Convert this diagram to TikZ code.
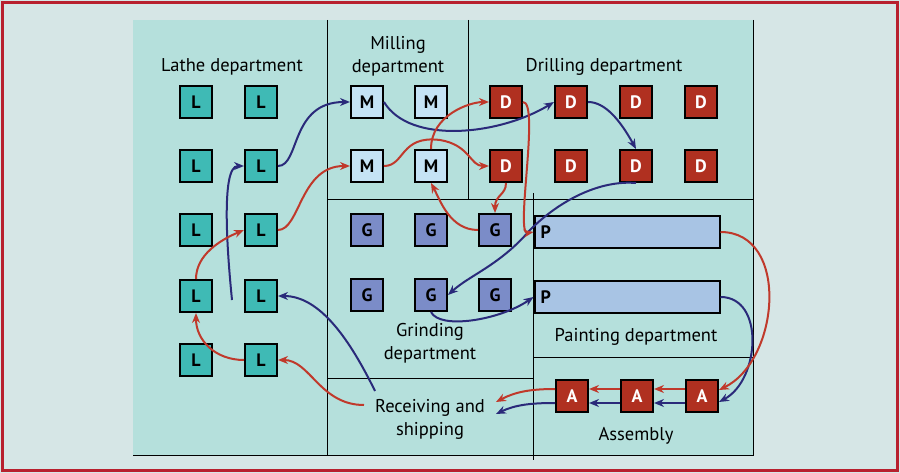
\documentclass[tikz,border=0pt]{standalone}
\usepackage{fontspec}
\setmainfont{PT Sans}
\usetikzlibrary{arrows.meta}
\definecolor{bg}{HTML}{D6E6E6}
\definecolor{frame}{HTML}{B8202E}
\definecolor{panel}{HTML}{B5E0DC}
\definecolor{lc}{HTML}{3FBAB5}
\definecolor{mc}{HTML}{C5E3F5}
\definecolor{dc}{HTML}{B03020}
\definecolor{gc}{HTML}{7B8CC8}
\definecolor{pc}{HTML}{A8C4E4}
\definecolor{bl}{HTML}{2A2A7A}
\definecolor{rd}{HTML}{C0392B}
\tikzset{
 mach/.style={draw=black,line width=2pt,minimum size=32pt,inner sep=0pt,font=\bfseries\fontsize{18}{18}\selectfont},
 L/.style={mach,fill=lc},M/.style={mach,fill=mc},D/.style={mach,fill=dc,text=white},
 G/.style={mach,fill=gc},A/.style={mach,fill=dc,text=white},
 P/.style={draw=black,line width=2pt,fill=pc,minimum width=185pt,minimum height=32pt,inner sep=5pt,text width=173pt,align=left,font=\bfseries\fontsize{18}{18}\selectfont},
 lbl/.style={font=\fontsize{18.5}{23}\selectfont,align=center,inner sep=1pt},
 b/.style={draw=bl,line width=2pt,-{Stealth[length=10pt,width=8pt]}},
 r/.style={draw=rd,line width=2pt,-{Stealth[length=10pt,width=8pt]}},
 wall/.style={line width=1pt}
}
\begin{document}
\begin{tikzpicture}[x=1pt,y=-1pt]
\useasboundingbox (0,0) rectangle (900,473);
\fill[bg] (0,0) rectangle (900,473);
\draw[frame,line width=3.5pt] (2.5,2.5) rectangle (897.5,470.5);
\fill[panel] (133,20) rectangle (753,455);
\draw[wall] (753,20) -- (753,455) -- (133,455);
\draw[wall] (327,20) -- (327,455);
\draw[wall] (468,20) -- (468,200);
\draw[wall] (327,200) -- (753,200);
\draw[wall] (533,193) -- (533,460);
\draw[wall] (327,378) -- (533,378);
\draw[wall] (533,357) -- (753,357);
% labels
\node[lbl] at (232,67) {Lathe department};
\node[lbl] at (398,56) {Milling\\department};
\node[lbl] at (604,67) {Drilling department};
\node[lbl] at (430,343) {Grinding\\department};
\node[lbl] at (636,337) {Painting department};
\node[lbl] (rs) at (430,419) {Receiving and\\shipping};
\node[lbl] at (636,436) {Assembly};
% machines
\foreach \r/\y in {1/102,2/166,3/230,4/296,5/360}{
 \node[L] (L1\r) at (196,\y) {L};
 \node[L] (L2\r) at (261,\y) {L};}
\foreach \c/\x in {1/367,2/431}{\foreach \r/\y in {1/102,2/166}{\node[M] (M\c\r) at (\x,\y) {M};}}
\foreach \c/\x in {1/506,2/571,3/636,4/701}{\foreach \r/\y in {1/102,2/166}{\node[D] (D\c\r) at (\x,\y) {D};}}
\foreach \c/\x in {1/367,2/431,3/495}{\foreach \r/\y in {1/230,2/295}{\node[G] (G\c\r) at (\x,\y) {G};}}
\node[P] (P1) at (627,232) {P};
\node[P] (P2) at (627,297) {P};
\foreach \c/\x in {1/572,2/637,3/702}{\node[A] (A\c) at (\x,396) {A};}
% blue route
\draw[b] ([xshift=-55pt,yshift=28pt]rs.center) .. controls (350,340) and (320,296) .. (L24.east);
\draw[b] ([xshift=-12pt,yshift=-4pt]L24.west) .. controls (228,260) and (220,166) .. (L22.west);
\draw[b] (L22.east) .. controls (300,166) and (290,102) .. (M11.west);
\draw[b] (M11.east) .. controls (410,145) and (500,135) .. (D21.west);
\draw[b] (D21.east) .. controls (605,102) and (620,120) .. (D32.north);
\draw[b] (D32.south) .. controls (600,180) and (560,200) .. (530,230) .. controls (500,265) and (470,275) .. (G22.east);
\draw[b] (G22.south) .. controls (440,330) and (500,320) .. (P2.west);
\draw[b] (P2.east) .. controls (765,297) and (760,380) .. ([yshift=-6pt]A3.east);
\draw[b] ([yshift=-7pt]A3.west) -- ([yshift=-7pt]A2.east);
\draw[b] ([yshift=-7pt]A2.west) -- ([yshift=-7pt]A1.east);
\draw[b] ([yshift=-7pt]A1.west) .. controls (530,403) and (515,405) .. (496,414);
% red route
\draw[r] ([xshift=-66pt,yshift=14pt]rs.center) .. controls (320,405) and (310,360) .. (L25.east);
\draw[r] (L25.west) .. controls (215,360) and (196,340) .. (L14.south);
\draw[r] (L14.north) .. controls (196,255) and (220,240) .. (L23.west);
\draw[r] (L23.east) .. controls (300,230) and (300,166) .. (M12.west);
\draw[r] (M12.east) .. controls (405,166) and (400,135) .. (440,140) .. controls (470,145) and (470,166) .. (D12.west);
\draw[r] (D12.south) .. controls (506,195) and (495,195) .. (G31.north);
\draw[r] (G31.west) .. controls (450,230) and (440,200) .. (M22.south);
\draw[r] (M22.north) .. controls (431,115) and (470,102) .. (D11.west);
\draw[r] (D11.east) .. controls (540,102) and (515,235) .. (P1.west);
\draw[r] (P1.east) .. controls (790,232) and (780,360) .. ([yshift=6pt]A3.east);
\draw[r] ([yshift=7pt]A3.west) -- ([yshift=7pt]A2.east);
\draw[r] ([yshift=7pt]A2.west) -- ([yshift=7pt]A1.east);
\draw[r] ([yshift=7pt]A1.west) .. controls (530,389) and (515,392) .. (496,402);
\end{tikzpicture}
\end{document}
